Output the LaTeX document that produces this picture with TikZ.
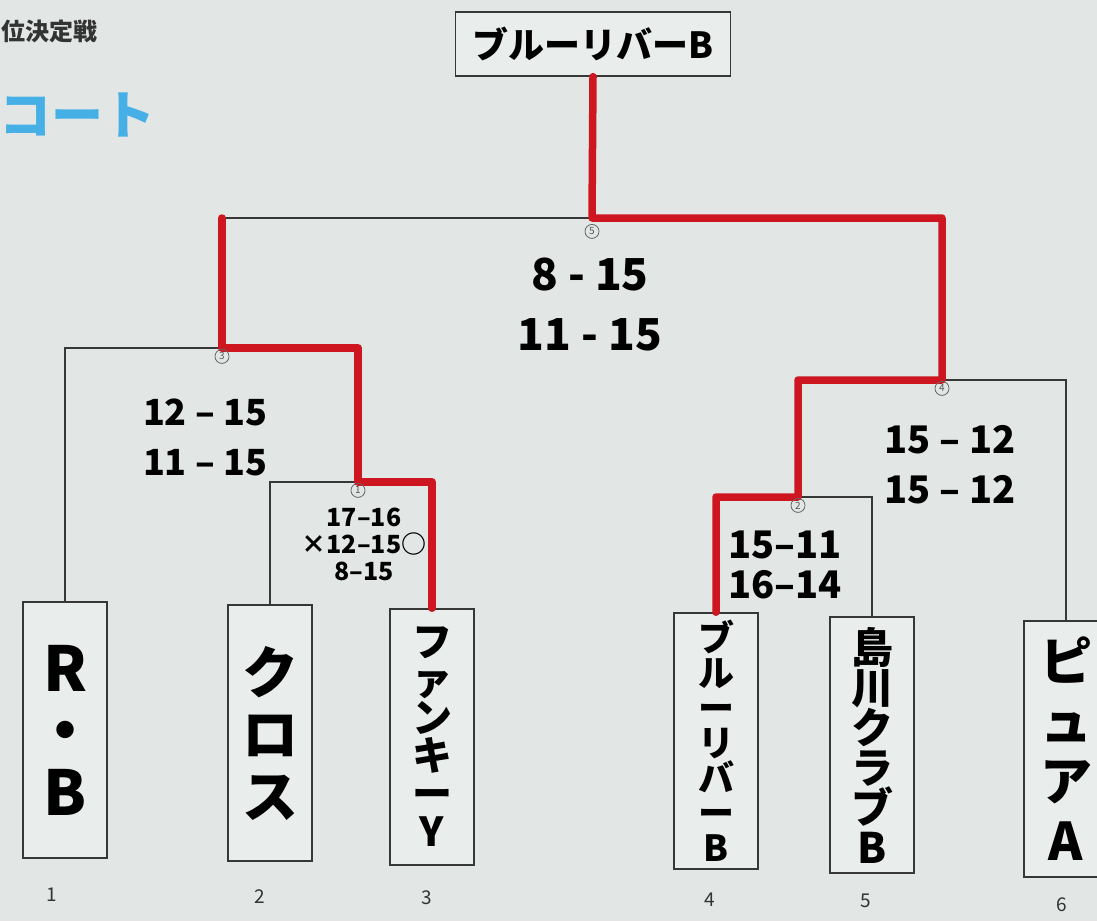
\documentclass[tikz,border=0pt]{standalone}
\usepackage{fontspec}
\setmainfont{Noto Sans CJK JP}
\definecolor{paper}{RGB}{226,231,229}
\definecolor{boxc}{RGB}{233,237,235}
\definecolor{linec}{RGB}{55,55,55}
\definecolor{winred}{RGB}{205,22,32}
\definecolor{titleblue}{RGB}{70,175,230}
\newcommand{\fs}[2]{\fontsize{#1}{#2}\selectfont}
\tikzset{
  bk/.style={draw=linec, line width=1.4pt},
  win/.style={draw=winred, line width=7.5pt, line join=round, line cap=round},
  team/.style={draw=linec, line width=1.5pt, fill=boxc, minimum width=84pt, minimum height=256pt, inner sep=0pt, align=center, font=\bfseries},
  champ/.style={draw=linec, line width=1.3pt, fill=boxc, minimum width=275pt, minimum height=64pt, inner sep=0pt, font=\bfseries\fs{36}{40}},
  circ/.style={circle, draw=gray!80!black, line width=0.8pt, text=gray!70!black, inner sep=0.8pt, minimum size=14pt, font=\fs{10}{11}},
  score/.style={align=center, font=\bfseries, text=black},
  seed/.style={font=\fs{19}{20}, text=black!80},
}
\begin{document}
\begin{tikzpicture}[x=1pt,y=-1pt]
\useasboundingbox (0,0) rectangle (1097,921);
\fill[paper] (0,0) rectangle (1097,921);

% title fragments (cut off at the left edge)
\node[anchor=west, font=\bfseries\fs{24}{26}, text=black!80] (ttl) at (-2,31) {位決定戦};
\node[anchor=west, font=\bfseries\fs{52}{56}, text=titleblue] (ttl2) at (-4,115) {コート};

% champion
\node[champ] (ch) at (593,44) {ブルーリバーB};

% teams
\node[team, font=\bfseries\fs{62}{62}] (t1) at (65,730) {R\\・\\B};
\node[team, font=\bfseries\fs{56}{62}] (t2) at (270,733) {ク\\ロ\\ス};
\node[team, font=\bfseries\fs{40}{38}] (t3) at (432,737) {フ\\ァ\\ン\\キ\\ー\\Y};
\node[team, font=\bfseries\fs{36}{35}] (t4) at (716,741) {ブ\\ル\\ー\\リ\\バ\\ー\\B};
\node[team, font=\bfseries\fs{42}{40}] (t5) at (872,745) {島\\川\\ク\\ラ\\ブ\\B};
\node[team, font=\bfseries\fs{52}{60}] (t6) at (1066,749) {ピ\\ュ\\ア\\A};

% seed numbers
\node[seed] (n1) at (52,895) {1};
\node[seed] (n2) at (260,897) {2};
\node[seed] (n3) at (427,898) {3};
\node[seed] (n4) at (710,900) {4};
\node[seed] (n5) at (866,901) {5};
\node[seed] (n6) at (1062,905) {6};

% match junctions
\coordinate (m1) at (358,482);
\coordinate (m2) at (798,497);
\coordinate (m3) at (222,348);
\coordinate (m4) at (942,380);
\coordinate (m5) at (592,218);
\coordinate (fl) at (m3 |- m5);

% black bracket
\draw[bk] (t2.north) |- (m1) -| (t3.north);
\draw[bk] (t1.north) |- (m3) -| (m1);
\draw[bk] (m3) |- (m5) -| (m4);
\draw[bk] (t4.north) |- (m2) -| (t5.north);
\draw[bk] (m2) |- (m4) -| (t6.north);

% winner path (red)
\draw[win] (t3.north) |- (m1) |- (m3) -- (fl);
\draw[win] (ch.south) -- (m5) -| (m4) -| (m2) -| (t4.north);

% match numbers
\node[circ, below=1pt] (c1) at (m1) {1};
\node[circ, below=1pt] (c2) at (m2) {2};
\node[circ, below=1pt] (c3) at (m3) {3};
\node[circ, below=1pt] (c4) at (m4) {4};
\node[circ, below=6pt] (c5) at (m5) {5};

% scores
\node[score, font=\bfseries\fs{44}{60}] (s5) at (590,305) {8 - 15\\11 - 15};
\node[score, font=\bfseries\fs{36}{50}] (s3) at (205,437) {12 – 15\\11 – 15};
\node[score, font=\bfseries\fs{25}{27}] (s1) at (364,544) {17–16\\×12–15○\\8–15};
\node[score, font=\bfseries\fs{38}{40}] (s2) at (785,565) {15–11\\16–14};
\node[score, font=\bfseries\fs{38}{50}] (s4) at (950,465) {15 – 12\\15 – 12};
\end{tikzpicture}
\end{document}
